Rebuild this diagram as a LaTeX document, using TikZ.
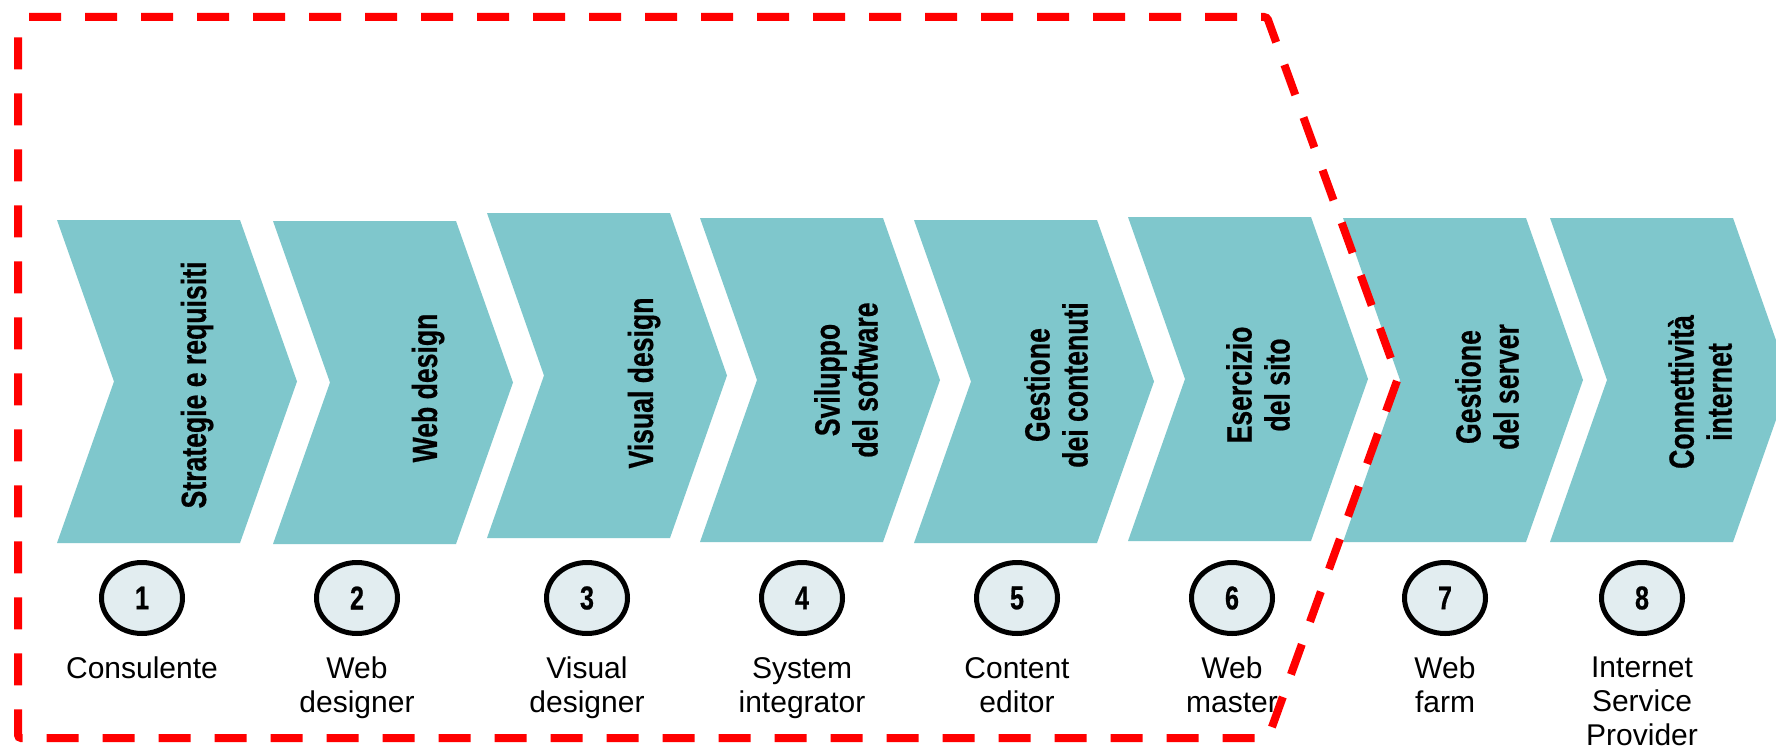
\documentclass[tikz,border=0pt]{standalone}
\usepackage{fontspec}
\setmainfont{Liberation Sans}
\newfontfamily\chevfont{Liberation Sans}[FakeStretch=0.76,FakeBold=0.6]
\usetikzlibrary{shapes.geometric}
\definecolor{tealfill}{RGB}{127,199,204}
\definecolor{circfill}{RGB}{226,237,240}
\definecolor{dashred}{RGB}{255,0,0}
\newcommand\mychev[3]{\fill[chev] (#1,#2) -- (#1+183,#2) -- (#1+240,{(#2+#3)/2}) -- (#1+183,#3) -- (#1,#3) -- (#1+57,{(#2+#3)/2}) -- cycle;}
\begin{document}
\begin{tikzpicture}[x=1pt,y=-1pt,
  chev/.style={fill=tealfill},
  chevtext/.style={rotate=90, font=\chevfont\bfseries\fontsize{35}{38}\selectfont, align=center, inner sep=0pt},
  numcirc/.style={ellipse, draw=black, line width=5pt, fill=circfill, minimum width=81pt, minimum height=71pt, inner sep=0pt, font=\chevfont\bfseries\fontsize{33}{33}\selectfont},
  role/.style={anchor=north, align=center, inner sep=0pt, font=\fontsize{30}{34}\selectfont},
  border/.style={draw=dashred, line width=8pt, dash pattern=on 32pt off 24pt, dash phase=48pt, rounded corners=3pt}
]
\useasboundingbox (0,0) rectangle (1776,749);
\clip (0,0) rectangle (1776,749);
\fill[white] (0,0) rectangle (1776,749);
% chevrons
\mychev{57}{220}{543}
\mychev{273}{221}{544}
\mychev{487}{213}{538}
\mychev{700}{218}{542}
\mychev{914}{220}{543}
\mychev{1128}{217}{541}
\mychev{1343}{218}{542}
\mychev{1550}{218}{542}
% chevron texts
\node[chevtext] (s1) at (197,385) {Strategie e requisiti};
\node[chevtext] (s2) at (428,388) {Web design};
\node[chevtext] (s3) at (644,383) {Visual design};
\node[chevtext] (s4) at (846,380) {Sviluppo\\del software};
\node[chevtext] (s5) at (1056,385) {Gestione\\dei contenuti};
\node[chevtext] (s6) at (1258,385) {Esercizio\\del sito};
\node[chevtext] (s7) at (1487,387) {Gestione\\del server};
\node[chevtext] (s8) at (1700,392) {Connettività\\internet};
% numbered circles
\node[numcirc] (c1) at (142,598) {1};
\node[numcirc] (c2) at (357,598) {2};
\node[numcirc] (c3) at (587,598) {3};
\node[numcirc] (c4) at (802,598) {4};
\node[numcirc] (c5) at (1017,598) {5};
\node[numcirc] (c6) at (1232,598) {6};
\node[numcirc] (c7) at (1445,598) {7};
\node[numcirc] (c8) at (1642,598) {8};
% roles
\node[role] (r1) at (142,657) {Consulente};
\node[role] (r2) at (357,657) {Web\\designer};
\node[role] (r3) at (587,657) {Visual\\designer};
\node[role] (r4) at (802,657) {System\\integrator};
\node[role] (r5) at (1017,657) {Content\\editor};
\node[role] (r6) at (1232,657) {Web\\master};
\node[role] (r7) at (1445,657) {Web\\farm};
\node[role] (r8) at (1642,657) {Internet\\Service\\Provider};
% dashed boundary
\draw[border] (18,17) -- (1267,17) -- (1398,378) -- (1268,738) -- (18,738) -- cycle;
\end{tikzpicture}
\end{document}
